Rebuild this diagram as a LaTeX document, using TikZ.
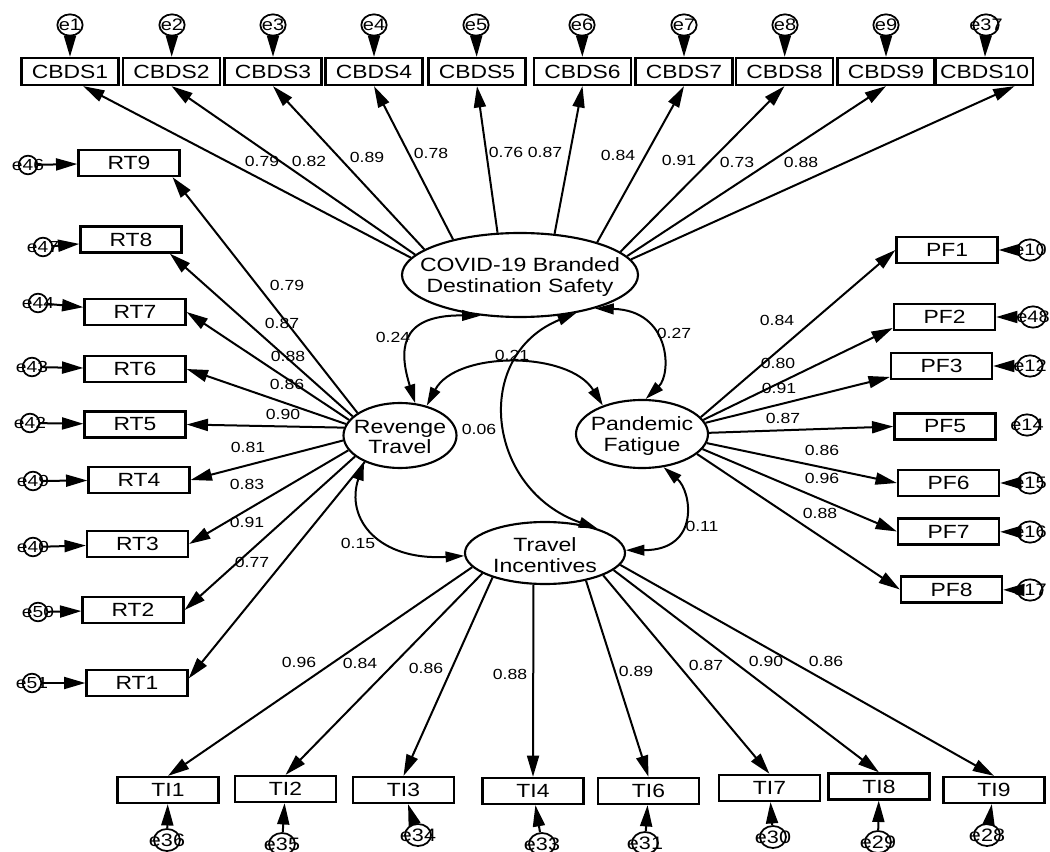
\documentclass[tikz,border=0pt]{standalone}
\usepackage{fontspec}
\setmainfont{Liberation Sans}[FakeStretch=1.2]
\usetikzlibrary{shapes.geometric,arrows.meta}
\begin{document}
\begin{tikzpicture}[x=0.75pt,y=-0.75pt,
  obsbox/.style={draw,line width=1.7pt,rectangle,inner sep=0pt,minimum width=75.75pt,minimum height=19.5pt,font=\fontsize{14.3}{15}\selectfont},
  cbox/.style={obsbox,minimum width=72.75pt,minimum height=20.25pt},
  latnode/.style={draw,line width=1.6pt,ellipse,inner sep=0pt},
  lattext/.style={inner sep=0pt,align=center,font=\fontsize{14.4}{15.5}\selectfont},
  errnode/.style={draw,line width=1.3pt,ellipse,inner sep=0pt,minimum width=19pt,minimum height=16pt,font=\fontsize{12.5}{12}\selectfont},
  rterr/.style={errnode,minimum width=14pt,minimum height=14pt,font=\fontsize{12}{12}\selectfont},
  tierr/.style={errnode,minimum width=19.5pt,minimum height=16.5pt,font=\fontsize{13.5}{13}\selectfont},
  wlabel/.style={inner sep=0pt,font=\fontsize{11}{11}\selectfont},
  ldarrow/.style={line width=1.5pt,-{Triangle[length=16pt,width=9pt]}},
  covarrow/.style={line width=1.5pt,{Triangle[length=14pt,width=8pt]}-{Triangle[length=14pt,width=8pt]}}
]
\useasboundingbox (0,0) rectangle (1050,852);

% latent variables
\node[latnode,minimum width=177pt,minimum height=63pt] (cbds) at (520,275) {};
\node[lattext] (cbdst) at (520,277) {COVID-19 Branded\\Destination Safety};
\node[latnode,minimum width=84.75pt,minimum height=48.75pt] (rt) at (400,435.5) {};
\node[lattext] (rtt) at (400,437) {Revenge\\Travel};
\node[latnode,minimum width=99pt,minimum height=51pt] (pf) at (642,434) {};
\node[lattext] (pft) at (642,436) {Pandemic\\Fatigue};
\node[latnode,minimum width=120pt,minimum height=46.5pt] (ti) at (545,553) {};
\node[lattext] (tit) at (545,555) {Travel\\Incentives};

% CBDS indicators
\node[cbox] (c1) at (70,71.5) {CBDS1};
\node[cbox] (c2) at (171.5,71.5) {CBDS2};
\node[cbox] (c3) at (273,71.5) {CBDS3};
\node[cbox] (c4) at (374,71.5) {CBDS4};
\node[cbox] (c5) at (477,71.5) {CBDS5};
\node[cbox] (c6) at (582.5,71.5) {CBDS6};
\node[cbox] (c7) at (684,71.5) {CBDS7};
\node[cbox] (c8) at (784.5,71.5) {CBDS8};
\node[cbox] (c9) at (886,71.5) {CBDS9};
\node[cbox] (c10) at (984.5,71.5) {CBDS10};

\node[errnode] (e1) at (70,25) {\makebox[0pt]{e1}};
\node[errnode] (e2) at (172,25) {\makebox[0pt]{e2}};
\node[errnode] (e3) at (273,25) {\makebox[0pt]{e3}};
\node[errnode] (e4) at (374,25) {\makebox[0pt]{e4}};
\node[errnode] (e5) at (476,25) {\makebox[0pt]{e5}};
\node[errnode] (e6) at (582,25) {\makebox[0pt]{e6}};
\node[errnode] (e7) at (684,25) {\makebox[0pt]{e7}};
\node[errnode] (e8) at (785,25) {\makebox[0pt]{e8}};
\node[errnode] (e9) at (886,25) {\makebox[0pt]{e9}};
\node[errnode] (e37) at (986,25) {\makebox[0pt]{e37}};

\draw[ldarrow] (e1) -- (c1);
\draw[ldarrow] (e2) -- (c2);
\draw[ldarrow] (e3) -- (c3);
\draw[ldarrow] (e4) -- (c4);
\draw[ldarrow] (e5) -- (c5);
\draw[ldarrow] (e6) -- (c6);
\draw[ldarrow] (e7) -- (c7);
\draw[ldarrow] (e8) -- (c8);
\draw[ldarrow] (e9) -- (c9);
\draw[ldarrow] (e37) -- (c10);

% RT indicators
\node[obsbox] (rt9) at (129,163) {RT9};
\node[obsbox] (rt8) at (131,239.5) {RT8};
\node[obsbox] (rt7) at (135,312) {RT7};
\node[obsbox] (rt6) at (135,369) {RT6};
\node[obsbox] (rt5) at (135,424.5) {RT5};
\node[obsbox] (rt4) at (139,480) {RT4};
\node[obsbox] (rt3) at (137.5,544) {RT3};
\node[obsbox] (rt2) at (133,610) {RT2};
\node[obsbox] (rt1) at (137,683) {RT1};

\node[rterr] (e46) at (28,165) {\makebox[0pt]{e46}};
\node[rterr] (e47) at (43,247) {\makebox[0pt]{e47}};
\node[rterr] (e44) at (38,303) {\makebox[0pt]{e44}};
\node[rterr] (e43) at (32,367) {\makebox[0pt]{e43}};
\node[rterr] (e42) at (30,423) {\makebox[0pt]{e42}};
\node[rterr] (e49) at (33,481) {\makebox[0pt]{e49}};
\node[rterr] (e40) at (33,547) {\makebox[0pt]{e40}};
\node[rterr] (e50) at (38,612) {\makebox[0pt]{e50}};
\node[rterr] (e51) at (32,683) {\makebox[0pt]{e51}};

\draw[ldarrow] (e46) -- (rt9);
\draw[ldarrow] (e47) -- (rt8);
\draw[ldarrow] (e44) -- (rt7);
\draw[ldarrow] (e43) -- (rt6);
\draw[ldarrow] (e42) -- (rt5);
\draw[ldarrow] (e49) -- (rt4);
\draw[ldarrow] (e40) -- (rt3);
\draw[ldarrow] (e50) -- (rt2);
\draw[ldarrow] (e51) -- (rt1);

% PF indicators
\node[obsbox] (pf1) at (947,250) {PF1};
\node[obsbox] (pf2) at (944.5,317) {PF2};
\node[obsbox] (pf3) at (941.5,366) {PF3};
\node[obsbox] (pf5) at (945,426.5) {PF5};
\node[obsbox] (pf6) at (948.5,483) {PF6};
\node[obsbox] (pf7) at (948.5,531.5) {PF7};
\node[obsbox] (pf8) at (951.5,589.5) {PF8};

\node[errnode] (e10) at (1030,250) {\makebox[0pt]{e10}};
\node[errnode] (e48) at (1033,317) {\makebox[0pt]{e48}};
\node[errnode] (e12) at (1030,366) {\makebox[0pt]{e12}};
\node[errnode] (e14) at (1027,425) {\makebox[0pt]{e14}};
\node[errnode] (e15) at (1030,483) {\makebox[0pt]{e15}};
\node[errnode] (e16) at (1030,532) {\makebox[0pt]{e16}};
\node[errnode] (e17) at (1030,590) {\makebox[0pt]{e17}};

\draw[ldarrow] (e10) -- (pf1);
\draw[ldarrow] (e48) -- (pf2);
\draw[ldarrow] (e12) -- (pf3);
\draw[ldarrow] (e15) -- (pf6);
\draw[ldarrow] (e16) -- (pf7);
\draw[ldarrow] (e17) -- (pf8);

% TI indicators
\node[obsbox] (ti1) at (168,790) {TI1};
\node[obsbox] (ti2) at (285.5,789) {TI2};
\node[obsbox] (ti3) at (403.5,790) {TI3};
\node[obsbox] (ti4) at (533,791) {TI4};
\node[obsbox] (ti6) at (648.5,791) {TI6};
\node[obsbox] (ti7) at (769.5,788) {TI7};
\node[obsbox] (ti8) at (879,786.5) {TI8};
\node[obsbox] (ti9) at (994,790) {TI9};

\node[tierr] (e36) at (167,840) {\makebox[0pt]{e36}};
\node[tierr] (e35) at (282,844) {\makebox[0pt]{e35}};
\node[tierr] (e34) at (418,835) {\makebox[0pt]{e34}};
\node[tierr] (e33) at (542,844) {\makebox[0pt]{e33}};
\node[tierr] (e31) at (645,843) {\makebox[0pt]{e31}};
\node[tierr] (e30) at (773,837) {\makebox[0pt]{e30}};
\node[tierr] (e29) at (878,842) {\makebox[0pt]{e29}};
\node[tierr] (e28) at (987,835) {\makebox[0pt]{e28}};

\draw[ldarrow] (e36) -- (ti1);
\draw[ldarrow] (e35) -- (ti2);
\draw[ldarrow] (e34) -- (ti3);
\draw[ldarrow] (e33) -- (ti4);
\draw[ldarrow] (e31) -- (ti6);
\draw[ldarrow] (e30) -- (ti7);
\draw[ldarrow] (e29) -- (ti8);
\draw[ldarrow] (e28) -- (ti9);

% loadings CBDS
\draw[ldarrow] (cbds.171) -- (c1.-48);
\draw[ldarrow] (cbds.169) -- (c2.south);
\draw[ldarrow] (cbds.165) -- (c3.south);
\draw[ldarrow] (cbds.152) -- (c4.south);
\draw[ldarrow] (cbds.118) -- (c5.south);
\draw[ldarrow] (cbds.50) -- (c6.south);
\draw[ldarrow] (cbds.23) -- (c7.south);
\draw[ldarrow] (cbds.13) -- (c8.south);
\draw[ldarrow] (cbds.10) -- (c9.south);
\draw[ldarrow] (cbds.8) -- (c10.-26);

% loadings RT
\draw[ldarrow] (rt.152) -- (rt9.-18);
\draw[ldarrow] (rt.158) -- (rt8.-20);
\draw[ldarrow] (rt.163) -- (rt7.east);
\draw[ldarrow] (rt.168) -- (rt6.east);
\draw[ldarrow] (rt.172) -- (rt5.east);
\draw[ldarrow] (rt.185) -- (rt4.east);
\draw[ldarrow] (rt.196) -- (rt3.east);
\draw[ldarrow] (rt.205) -- (rt2.east);
\draw[ldarrow] (rt.217) -- (rt1.5);

% loadings PF
\draw[ldarrow] (pf.16) -- (pf1.west);
\draw[ldarrow] (pf.13) -- (pf2.192);
\draw[ldarrow] (pf.10) -- (pf3.192);
\draw[ldarrow] (pf.1) -- (pf5.west);
\draw[ldarrow] (pf.-8) -- (pf6.west);
\draw[ldarrow] (pf.-14) -- (pf7.west);
\draw[ldarrow] (pf.-20) -- (pf8.west);

% loadings TI
\draw[ldarrow] (ti.191) -- (ti1.north);
\draw[ldarrow] (ti.198) -- (ti2.north);
\draw[ldarrow] (ti.205) -- (ti3.north);
\draw[ldarrow] (ti.250) -- (ti4.north);
\draw[ldarrow] (ti.-34) -- (ti6.north);
\draw[ldarrow] (ti.-21) -- (ti7.north);
\draw[ldarrow] (ti.-14) -- (ti8.north);
\draw[ldarrow] (ti.-9) -- (ti9.north);

% covariances
\draw[covarrow] (rt.65) .. controls +(-15,-49) and +(-85,-1) .. (cbds.226);
\draw[covarrow] (cbds.-24) .. controls +(76,2) and +(26,-25) .. (pf.84);
\draw[covarrow] (rt.48) .. controls +(29,-55) and +(-34,-55) .. (pf.144);
\draw[covarrow] (cbds.-34) .. controls +(-105,43) and +(-111,-39) .. (ti.25);
\draw[covarrow] (rt.216) .. controls +(-19,58) and +(-85,5) .. (ti.182);
\draw[covarrow] (pf.-57) .. controls +(28,24) and +(75,0) .. (ti.2);

% labels CBDS
\node[wlabel] (lc1) at (262,161) {0.79};
\node[wlabel] (lc2) at (309,161) {0.82};
\node[wlabel] (lc3) at (367,157) {0.89};
\node[wlabel] (lc4) at (431,153) {0.78};
\node[wlabel] (lc5) at (506,152) {0.76};
\node[wlabel] (lc6) at (545,152) {0.87};
\node[wlabel] (lc7) at (618,155) {0.84};
\node[wlabel] (lc8) at (679,160) {0.91};
\node[wlabel] (lc9) at (737,162) {0.73};
\node[wlabel] (lc10) at (801,162) {0.88};

% labels RT
\node[wlabel] (lr9) at (287,285) {0.79};
\node[wlabel] (lr8) at (282,323) {0.87};
\node[wlabel] (lr7) at (288,356) {0.88};
\node[wlabel] (lr6) at (287,384) {0.86};
\node[wlabel] (lr5) at (283,414) {0.90};
\node[wlabel] (lr4) at (248,447) {0.81};
\node[wlabel] (lr3) at (247,484) {0.83};
\node[wlabel] (lr2) at (247,522) {0.91};
\node[wlabel] (lr1) at (252,562) {0.77};

% labels PF
\node[wlabel] (lp1) at (777,320) {0.84};
\node[wlabel] (lp2) at (778,363) {0.80};
\node[wlabel] (lp3) at (779,388) {0.91};
\node[wlabel] (lp5) at (783,418) {0.87};
\node[wlabel] (lp6) at (822,450) {0.86};
\node[wlabel] (lp7) at (822,478) {0.96};
\node[wlabel] (lp8) at (820,513) {0.88};

% labels TI
\node[wlabel] (lt1) at (299,662) {0.96};
\node[wlabel] (lt2) at (360,663) {0.84};
\node[wlabel] (lt3) at (426,668) {0.86};
\node[wlabel] (lt4) at (510,674) {0.88};
\node[wlabel] (lt6) at (636,671) {0.89};
\node[wlabel] (lt7) at (706,665) {0.87};
\node[wlabel] (lt8) at (766,661) {0.90};
\node[wlabel] (lt9) at (826,661) {0.86};

% covariance labels
\node[wlabel] (k1) at (393,337) {0.24};
\node[wlabel] (k2) at (674,333) {0.27};
\node[wlabel] (k3) at (512,355) {0.21};
\node[wlabel] (k4) at (479,429) {0.06};
\node[wlabel] (k5) at (358,543) {0.15};
\node[wlabel] (k6) at (702,526) {0.11};
\end{tikzpicture}
\end{document}
